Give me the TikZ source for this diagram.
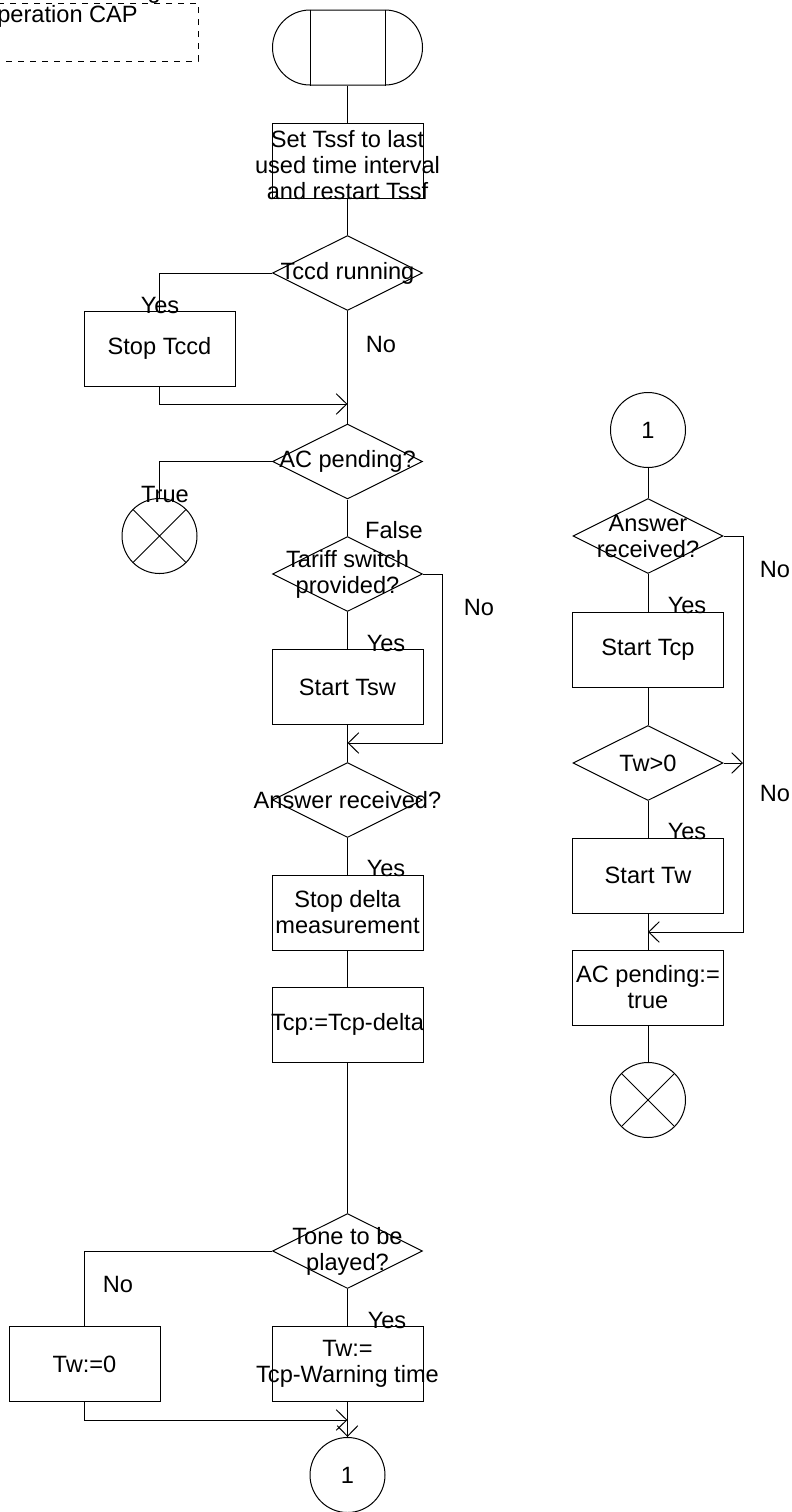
\documentclass[tikz,border=0pt]{standalone}
\usepackage{fontspec}
\setmainfont{Liberation Sans}
\usetikzlibrary{arrows.meta,shapes.geometric,shapes.misc}

\begin{document}
\begin{tikzpicture}[
		x=0.5pt, y=-0.5pt,
		font=\fontsize{11.8}{13}\selectfont,
		line width=0.5pt,
		box/.style={
				draw, minimum width=75.5pt, minimum height=37.5pt,
				inner sep=0pt, align=center
			},
		dec/.style={draw, diamond, minimum width=75pt, minimum height=37.5pt, inner sep=0pt},
		conn/.style={draw, circle, minimum size=37.5pt, inner sep=0pt},
		txt/.style={align=center, inner sep=0pt},
		lbl/.style={anchor=base, inner sep=0pt},
		flow/.style={-{Straight Barb[length=5.3pt,width=10.3pt]}}
	]
	\useasboundingbox (0,0) rectangle (792,1512);

	% Comment box (top left, cut by the page)
	\draw[dashed, dash pattern=on 3pt off 3pt] (-20,3) rectangle (198,61);
	\node[txt, anchor=south, font=\fontsize{11.8}{12}\selectfont] (note) at (61,28) {Action on receiving\\operation CAP};

	% Start
	\node[draw, rounded rectangle, minimum width=75pt, minimum height=37.5pt, inner sep=0pt] (start) at (347.5,47.5) {};
	\draw ([xshift=-18.75pt]start.north) -- ([xshift=-18.75pt]start.south);
	\draw ([xshift=18.75pt]start.north) -- ([xshift=18.75pt]start.south);

	% Left column
	\node[box, label={[txt, yshift=-2.5pt]center:{Set Tssf to last\\used time interval\\and restart Tssf}}] (setT) at (347.5,160.5) {};
	\node[dec, label={[txt]center:{Tccd running}}] (tccd) at (347.5,273) {};
	\node[box] (stopT) at (159.5,348.5) {Stop Tccd};
	\node[dec, label={[txt]center:{AC pending?}}] (acp) at (347.5,461.5) {};
	\node[conn] (endL) at (159.5,536) {};
	\node[dec, label={[txt]center:{Tariff switch\\provided?}}] (tsw) at (347.5,574) {};
	\node[box] (startTsw) at (347.5,687) {Start Tsw};
	\node[dec, label={[txt]center:{Answer received?}}] (ansL) at (347.5,800) {};
	\node[box] (stopD) at (347.5,912.5) {Stop delta\\measurement};
	\node[box, label={[txt]center:{Tcp:=Tcp-delta}}] (tcpD) at (347.5,1024.5) {};
	\node[dec, label={[txt]center:{Tone to be\\played?}}] (tone) at (347.5,1251) {};
	\node[box] (twZero) at (84.5,1364) {Tw:=0};
	\node[box, label={[txt]center:{Tw:=\\Tcp-Warning time}}] (twCalc) at (347.5,1364) {};
	\node[conn] (conA) at (347.5,1475) {1};

	\draw (endL.north west) -- (endL.south east) (endL.north east) -- (endL.south west);

	% Right column
	\node[conn] (conB) at (648,430) {1};
	\node[dec, label={[txt]center:{Answer\\received?}}] (ansR) at (648,536) {};
	\node[box] (startTcp) at (648,649.5) {Start Tcp};
	\node[dec, label={[txt]center:{Tw>0}}] (twPos) at (648,763) {};
	\node[box] (startTw) at (648,875.5) {Start Tw};
	\node[box] (acTrue) at (648,987.5) {AC pending:=\\true};
	\node[conn] (endR) at (648,1100) {};

	\draw (endR.north west) -- (endR.south east) (endR.north east) -- (endR.south west);

	% Join points
	\coordinate (j1) at (347.5,404);
	\coordinate (j2) at (347.5,743);
	\coordinate (j3) at (347.5,1420);
	\coordinate (j4) at (648,932);
	\coordinate (j5) at (743,763);

	% Connectors, left column
	\draw (start.south) -- (setT.north);
	\draw (setT.south) -- (tccd.north);
	\draw (tccd.west) -| (stopT.north);
	\draw (tccd.south) -- (acp.north);
	\draw[flow] (stopT.south) |- (j1);
	\draw (acp.west) -| (endL.north);
	\draw (acp.south) -- (tsw.north);
	\draw (tsw.south) -- (startTsw.north);
	\draw[flow] (tsw.east) -- ++(19,0) |- (j2);
	\draw (startTsw.south) -- (ansL.north);
	\draw (ansL.south) -- (stopD.north);
	\draw (stopD.south) -- (tcpD.north);
	\draw (tcpD.south) -- (tone.north);
	\draw (tone.west) -| (twZero.north);
	\draw (tone.south) -- (twCalc.north);
	\draw[flow] (twZero.south) |- (j3);
	\draw[flow] (twCalc.south) -- (conA.north);

	% Connectors, right column
	\draw (conB.south) -- (ansR.north);
	\draw (ansR.south) -- (startTcp.north);
	\draw[flow] (ansR.east) -- ++(20,0) |- (j4);
	\draw (startTcp.south) -- (twPos.north);
	\draw[flow] (twPos.east) -- (j5);
	\draw (twPos.south) -- (startTw.north);
	\draw (startTw.south) -- (acTrue.north);
	\draw (acTrue.south) -- (endR.north);

	% Branch labels
	\node[lbl] (yesTccd) at (160,313) {Yes};
	\node[lbl] (noTccd) at (381,352) {No};
	\node[lbl] (trueAcp) at (165,502) {True};
	\node[lbl] (falseAcp) at (394,538) {False};
	\node[lbl] (noTsw) at (479,615) {No};
	\node[lbl] (yesTsw) at (386,651) {Yes};
	\node[lbl] (yesAnsL) at (386,876) {Yes};
	\node[lbl] (noTone) at (118,1292) {No};
	\node[lbl] (yesTone) at (387,1328) {Yes};
	\node[lbl] (noAnsR) at (775,577) {No};
	\node[lbl] (yesAnsR) at (687,613) {Yes};
	\node[lbl] (noTw) at (775,801) {No};
	\node[lbl] (yesTw) at (687,839) {Yes};

\end{tikzpicture}
\end{document}
